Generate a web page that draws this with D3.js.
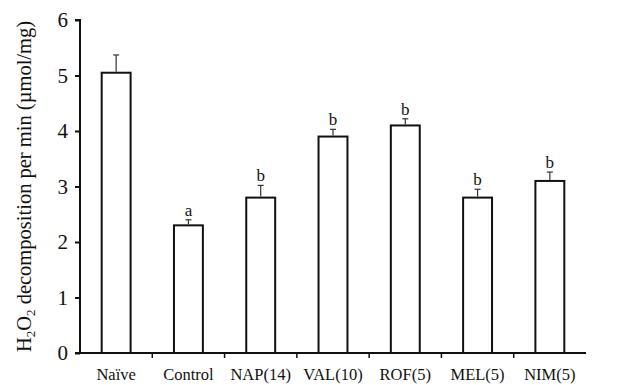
<!DOCTYPE html>
<html><head><meta charset="utf-8">
<script src="https://cdn.jsdelivr.net/npm/d3@7"></script>
<style>body{margin:0;background:#fff}svg{display:block}text{font-family:"Liberation Serif","DejaVu Serif",serif;fill:#111}</style>
</head><body>
<script>
const categories = ["Naïve","Control","NAP(14)","VAL(10)","ROF(5)","MEL(5)","NIM(5)"];
const values = [5.05, 2.3, 2.8, 3.9, 4.1, 2.8, 3.1];
const errors = [0.32, 0.1, 0.22, 0.13, 0.12, 0.15, 0.16];
const letters = ["", "a", "b", "b", "b", "b", "b"];
const yTicks = [0,1,2,3,4,5,6];

const W = 625, H = 385;
const m = {left: 80, right: 39, top: 20, bottom: 32};
const svg = d3.select("body").append("svg").attr("width", W).attr("height", H);
const x = d3.scaleBand().domain(categories).range([m.left, W - m.right]).paddingInner(0.6).paddingOuter(0.3);
const band = d3.scaleBand().domain(categories).range([m.left, W - m.right]);
const y = d3.scaleLinear().domain([0, 6]).range([H - m.bottom, m.top]);

// bars
svg.selectAll("rect.bar").data(categories).join("rect")
  .attr("x", d => x(d)).attr("y", (d,i) => y(values[i]))
  .attr("width", x.bandwidth()).attr("height", (d,i) => y(0) - y(values[i]))
  .attr("fill", "#fff").attr("stroke", "#111").attr("stroke-width", 2);

// error bars
const eb = svg.selectAll("g.err").data(categories).join("g");
eb.append("line")
  .attr("x1", d => x(d) + x.bandwidth()/2).attr("x2", d => x(d) + x.bandwidth()/2)
  .attr("y1", (d,i) => y(values[i]) - 1).attr("y2", (d,i) => y(values[i] + errors[i]))
  .attr("stroke", "#333").attr("stroke-width", 1.2);
eb.append("line")
  .attr("x1", d => x(d) + x.bandwidth()/2 - 3).attr("x2", d => x(d) + x.bandwidth()/2 + 3)
  .attr("y1", (d,i) => y(values[i] + errors[i])).attr("y2", (d,i) => y(values[i] + errors[i]))
  .attr("stroke", "#333").attr("stroke-width", 1.2);

// letters
svg.selectAll("text.let").data(categories).join("text")
  .attr("x", d => x(d) + x.bandwidth()/2).attr("y", (d,i) => y(values[i] + errors[i]) - 4)
  .attr("text-anchor", "middle").attr("font-size", 17)
  .text((d,i) => letters[i]);

// y axis
const ya = svg.append("g").attr("transform", `translate(${m.left},0)`)
  .call(d3.axisLeft(y).tickValues(yTicks).tickSize(5).tickPadding(7).tickFormat(d3.format("d")));
ya.select(".domain").attr("stroke", "#111").attr("stroke-width", 2).attr("d", `M-5,${y(6)}H0V${y(0)}`);
ya.selectAll(".tick line").attr("stroke", "#111").attr("stroke-width", 2);
ya.selectAll(".tick text").attr("font-size", 21).attr("font-family", "Liberation Serif").attr("fill", "#111");

// x axis
const xa = svg.append("g").attr("transform", `translate(0,${y(0)})`);
xa.append("line").attr("x1", m.left - 5).attr("x2", W - m.right).attr("stroke", "#111").attr("stroke-width", 2);
xa.selectAll("line.tk").data(categories.slice(1)).join("line")
  .attr("x1", d => band(d)).attr("x2", d => band(d)).attr("y1", 0).attr("y2", 5)
  .attr("stroke", "#111").attr("stroke-width", 1.5);
xa.selectAll("text").data(categories).join("text")
  .attr("x", d => band(d) + band.bandwidth()/2).attr("y", 27)
  .attr("text-anchor", "middle").attr("font-size", 16.5).text(d => d);

// y title
const t = svg.append("text").attr("transform", `translate(31,${(y(0)+y(6))/2}) rotate(-90)`)
  .attr("text-anchor", "middle").attr("font-size", 20.5);
t.append("tspan").text("H");
t.append("tspan").attr("font-size", 13).attr("dy", 4).text("2");
t.append("tspan").attr("dy", -4).text("O");
t.append("tspan").attr("font-size", 13).attr("dy", 4).text("2");
t.append("tspan").attr("dy", -4).text(" decomposition per min (µmol/mg)");
</script>
</body></html>
